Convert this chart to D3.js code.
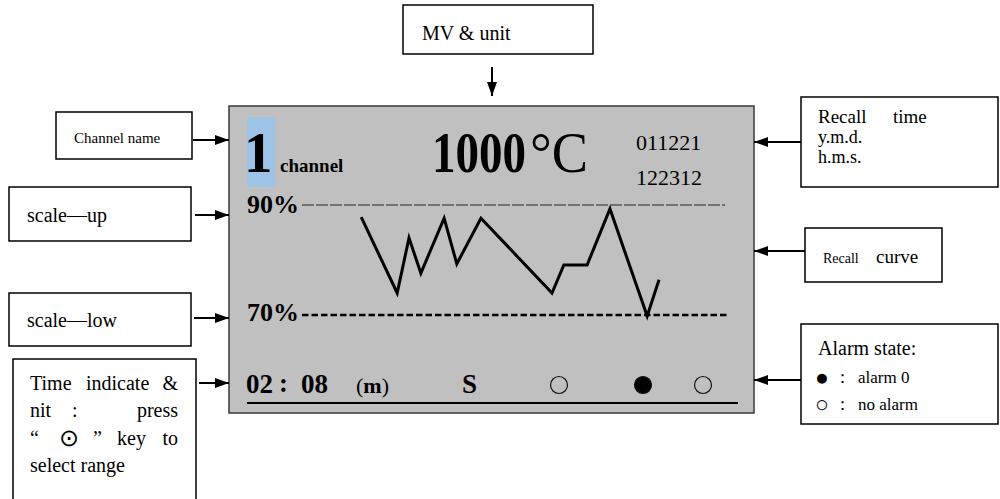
<!DOCTYPE html>
<html>
<head>
<meta charset="utf-8">
<script src="https://cdn.jsdelivr.net/npm/d3@7"></script>
<style>
  html, body { margin: 0; padding: 0; background: #ffffff; }
  svg { display: block; }
  text { font-family: "Liberation Serif", "Times New Roman", serif; fill: #000; }
</style>
</head>
<body>
<svg id="chart" width="1000" height="499"></svg>
<script>
// ---------------- data ----------------
// recall curve: relative time position (0..100 across the trace) and value in %
const curveTime = [14.0, 22.5, 25.3, 28.1, 33.6, 36.6, 42.3, 59.1, 61.9, 67.4, 72.8, 81.6, 84.4];
const curvePct  = [87.8, 74.0, 84.0, 77.6, 87.6, 79.3, 87.6, 74.0, 79.1, 79.1, 89.3, 69.8, 76.4];
const scaleUp = 90, scaleLow = 70;
const scaleLabels = ["90%", "70%"];
const channelNo = "1";
const channelLabel = "channel";
const mvValue = "1000";
const mvUnit = "°C";
const recallDate = "011221";
const recallClock = "122312";
const timeRange = ["02", "08"];
const timeUnit = "m";
const statusLetter = "S";
const alarmStates = [0, 1, 0];   // 1 = alarm (filled), 0 = no alarm (open)

// ---------------- drawing ----------------
const svg = d3.select("#chart");
const serif = "'Liberation Serif', 'Times New Roman', serif";

// arrow marker
const defs = svg.append("defs");
defs.append("marker").attr("id", "ah")
  .attr("viewBox", "0 0 14 10").attr("refX", 14).attr("refY", 5)
  .attr("markerWidth", 14).attr("markerHeight", 10)
  .attr("markerUnits", "userSpaceOnUse").attr("orient", "auto")
  .append("path").attr("d", "M0,0 L14,5 L0,10 Z").attr("fill", "#000");

// main LCD panel
const panel = {x: 229, y: 106, w: 525, h: 307};
svg.append("rect").attr("x", panel.x).attr("y", panel.y).attr("width", panel.w).attr("height", panel.h)
  .attr("fill", "#c0c0c0").attr("stroke", "#3a3a3a").attr("stroke-width", 1.5);

// channel number highlight
svg.append("rect").attr("x", 247).attr("y", 117).attr("width", 28).attr("height", 70).attr("fill", "#9dc3e6");
svg.append("text").attr("x", 244).attr("y", 172).attr("font-size", 57).attr("font-weight", "bold").attr("font-family", serif).text(channelNo);
svg.append("text").attr("x", 280).attr("y", 172).attr("font-size", 19).attr("font-weight", "bold").attr("font-family", serif).text(channelLabel);

// measured value & unit (value digits are horizontally condensed on the LCD)
svg.append("text").attr("transform", "translate(432,172) scale(0.84,1)")
  .attr("font-size", 56).attr("font-weight", "bold").attr("font-family", serif).text(mvValue);
svg.append("text").attr("x", 530).attr("y", 172).attr("font-size", 56).attr("font-family", serif)
  .attr("textLength", 58).attr("lengthAdjust", "spacingAndGlyphs").text(mvUnit);

// recall time
svg.append("text").attr("x", 636).attr("y", 150).attr("font-size", 22).attr("font-family", serif).text(recallDate);
svg.append("text").attr("x", 636).attr("y", 185).attr("font-size", 22).attr("font-family", serif).text(recallClock);

// scales
const x = d3.scaleLinear().domain([0, 100]).range([302, 725]);
const y = d3.scaleLinear().domain([scaleLow, scaleUp]).range([315, 205]);

svg.append("text").attr("x", 247).attr("y", 213).attr("font-size", 26).attr("font-weight", "bold").attr("font-family", serif).text(scaleLabels[0]);
svg.append("text").attr("x", 247).attr("y", 321).attr("font-size", 26).attr("font-weight", "bold").attr("font-family", serif).text(scaleLabels[1]);

svg.append("line").attr("x1", 302).attr("x2", 725).attr("y1", y(scaleUp)).attr("y2", y(scaleUp))
  .attr("stroke", "#222").attr("stroke-width", 1).attr("stroke-dasharray", "12 2");
svg.append("line").attr("x1", 302).attr("x2", 729).attr("y1", y(scaleLow)).attr("y2", y(scaleLow))
  .attr("stroke", "#000").attr("stroke-width", 2.5).attr("stroke-dasharray", "6.5 3");

// recall curve
const pts = curveTime.map((t, i) => [t, curvePct[i]]);
svg.append("path").datum(pts)
  .attr("d", d3.line().x(d => x(d[0])).y(d => y(d[1])))
  .attr("fill", "none").attr("stroke", "#000").attr("stroke-width", 3).attr("stroke-linejoin", "miter");

// bottom status row
svg.append("text").attr("x", 246).attr("y", 393).attr("font-size", 27).attr("font-weight", "bold").attr("font-family", serif).text(timeRange[0]);
svg.append("text").attr("x", 279).attr("y", 392).attr("font-size", 27).attr("font-weight", "bold").attr("font-family", serif).text(":");
svg.append("text").attr("x", 301).attr("y", 393).attr("font-size", 27).attr("font-weight", "bold").attr("font-family", serif).text(timeRange[1]);
const unitT = svg.append("text").attr("x", 356).attr("y", 393).attr("font-size", 22).attr("font-family", serif);
unitT.append("tspan").text("(");
unitT.append("tspan").attr("font-weight", "bold").text(timeUnit);
unitT.append("tspan").text(")");
svg.append("text").attr("x", 462).attr("y", 393).attr("font-size", 27).attr("font-weight", "bold").attr("font-family", serif).text(statusLetter);

const alarmCx = [559, 643, 703];
svg.selectAll("circle.al").data(alarmStates).join("circle").attr("class", "al")
  .attr("cx", (d, i) => alarmCx[i]).attr("cy", 385).attr("r", 8.5)
  .attr("fill", d => d ? "#000" : "none").attr("stroke", "#111").attr("stroke-width", 1.2);

svg.append("line").attr("x1", 247).attr("x2", 738).attr("y1", 403).attr("y2", 403)
  .attr("stroke", "#000").attr("stroke-width", 2);

// ---------------- annotation boxes ----------------
function box(x0, y0, w, h, noBottom) {
  if (noBottom) {
    svg.append("path").attr("d", `M${x0},${y0 + h} L${x0},${y0} L${x0 + w},${y0} L${x0 + w},${y0 + h}`)
      .attr("fill", "#fff").attr("stroke", "#000").attr("stroke-width", 1.5);
  } else {
    svg.append("rect").attr("x", x0).attr("y", y0).attr("width", w).attr("height", h)
      .attr("fill", "#fff").attr("stroke", "#000").attr("stroke-width", 1.5);
  }
}
function arrow(x1, y1, x2, y2) {
  svg.append("line").attr("x1", x1).attr("y1", y1).attr("x2", x2).attr("y2", y2)
    .attr("stroke", "#000").attr("stroke-width", 2).attr("marker-end", "url(#ah)");
}
function label(x0, y0, s, size, extra) {
  const t = svg.append("text").attr("x", x0).attr("y", y0).attr("font-size", size).attr("font-family", serif).text(s);
  if (extra) extra(t);
  return t;
}

// MV & unit
box(403, 5, 190, 49);
label(422, 40, "MV & unit", 20);
svg.append("line").attr("x1", 492).attr("y1", 67).attr("x2", 492).attr("y2", 96)
  .attr("stroke", "#000").attr("stroke-width", 2).attr("marker-end", "url(#ah)");

// Channel name
box(56, 112, 136, 47);
label(74, 143, "Channel name", 15);
arrow(193, 140, 229, 140);

// scale-up
box(9, 187, 182, 54);
label(27, 222, "scale—up", 20);
arrow(195, 215, 229, 215);

// scale-low
box(9, 293, 182, 53);
label(27, 327, "scale—low", 20);
arrow(194, 318, 229, 318);

// Time indicate
box(13, 359, 183, 141, true);
label(30, 390, "Time", 20); label(86, 390, "indicate", 20); label(178, 390, "&", 20, t => t.attr("text-anchor", "end"));
label(30, 417, "nit", 20); label(72, 417, ":", 20); label(178, 417, "press", 20, t => t.attr("text-anchor", "end"));
label(30, 445, "“", 20);
label(69, 446, "⊙", 24, t => t.attr("text-anchor", "middle").attr("font-family", "'DejaVu Sans', sans-serif"));
label(93, 445, "”", 20); label(117, 445, "key", 20); label(178, 445, "to", 20, t => t.attr("text-anchor", "end"));
label(30, 472, "select range", 20);
arrow(199, 383, 229, 383);

// Recall time
box(801, 97, 197, 90);
label(818, 123, "Recall", 19); label(893, 123, "time", 19);
label(818, 143, "y.m.d.", 18);
label(818, 163, "h.m.s.", 18);
arrow(801, 142, 754, 142);

// Recall curve
box(805, 228, 137, 54);
label(823, 263, "Recall", 14);
label(876, 263, "curve", 19);
arrow(805, 251, 754, 251);

// Alarm state
box(801, 324, 197, 100);
label(818, 355, "Alarm state:", 20);
label(815, 385, "●", 23, t => t.attr("font-family", "'DejaVu Sans', sans-serif"));
label(834, 383, "：", 17, t => t.attr("font-family", "'Noto Sans CJK SC', sans-serif"));
label(858, 383, "alarm 0", 17, t => t.attr("font-family", "'Liberation Mono', monospace"));
label(815, 412, "○", 23, t => t.attr("font-family", "'DejaVu Sans', sans-serif"));
label(834, 410, "：", 17, t => t.attr("font-family", "'Noto Sans CJK SC', sans-serif"));
label(858, 410, "no alarm", 17, t => t.attr("font-family", "'Liberation Mono', monospace"));
arrow(801, 380, 754, 380);
</script>
</body>
</html>
